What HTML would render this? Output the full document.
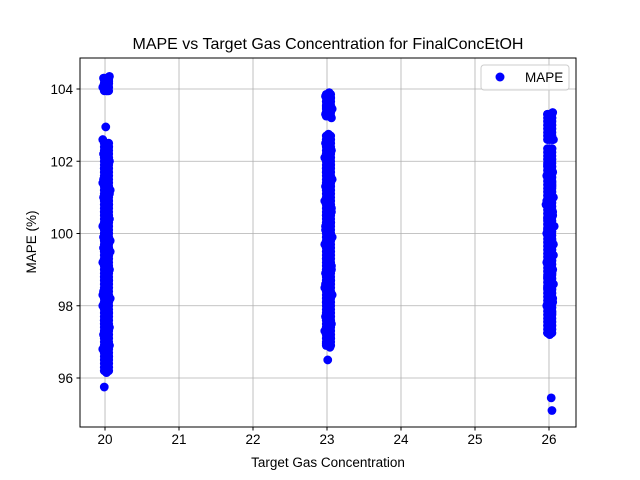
<!DOCTYPE html>
<html><head><meta charset="utf-8"><style>
body{margin:0;background:#fff;}
svg{display:block;font-family:"Liberation Sans","DejaVu Sans",sans-serif;}
</style></head><body>
<svg id="chart" width="640" height="480">
<rect width="640" height="480" fill="#fff"/>
<g id="grid"></g>
<g id="points"></g>
<rect x="80" y="58" width="496" height="369" fill="none" stroke="#000" stroke-width="1"/>
<g id="axes"></g>
<text x="328" y="49" text-anchor="middle" font-size="16">MAPE vs Target Gas Concentration for FinalConcEtOH</text>
<text x="328" y="467" text-anchor="middle" font-size="13.5">Target Gas Concentration</text>
<text transform="translate(36,242) rotate(-90)" text-anchor="middle" font-size="13.5">MAPE (%)</text>
<g>
<rect x="481" y="65" width="88" height="25" rx="3" fill="#fff" fill-opacity="0.8" stroke="#ccc"/>
<circle cx="500" cy="77" r="4.5" fill="#0000ff"/>
<text x="525" y="82" font-size="13.5">MAPE</text>
</g>
</svg>
<script>
const xTicks=[20,21,22,23,24,25,26];
const yTicks=[96,98,100,102,104];
const xVals=[
19.98,20.04,19.99,20.05,19.97,20.03,20.06,20.02,
20.01,19.97,20.05,19.98,20.06,19.99,20.04,19.97,20.07,19.98,20.05,19.99,20.06,19.97,20.04,20.07,19.98,20.05,19.97,20.06,19.99,20.04,19.98,20.07,19.97,20.05,19.99,20.06,19.98,20.04,19.97,20.05,20.0,20.02,19.99,
20.03,19.98,20.06,20.0,20.04,19.98,20.07,20.01,20.05,19.97,20.04,19.99,20.06,
22.98,23.05,22.99,23.04,23.07,22.98,23.03,23.06,
23.02,22.98,23.06,22.97,23.05,22.99,23.07,22.98,23.04,22.97,23.06,22.99,23.05,22.98,23.07,22.97,23.04,22.99,23.06,22.98,23.05,22.97,23.07,22.99,23.04,22.98,23.06,22.97,23.05,22.99,23.04,23.01,
23.03,22.99,23.05,23.0,23.06,22.98,23.04,23.0,23.06,22.98,
25.98,26.04,26.0,26.05,26.02,26.06,25.99,26.04,
26.0,25.98,26.05,25.97,26.04,25.99,26.06,25.96,26.05,25.98,26.07,25.97,26.04,25.99,26.06,25.97,26.05,25.98,26.06,25.99,26.05,25.97,26.04,25.99,26.03,25.98,26.01,
26.04,25.97,26.05,25.98,26.06,26.0,26.04,25.98,26.05,26.03,26.04
];
const yVals=[
104.3,104.3,104.15,104.2,104.05,103.95,104.35,104.1,
102.95,102.6,102.4,102.2,102.0,101.8,101.6,101.4,101.2,101.0,100.8,100.6,100.4,100.2,100.0,99.8,99.6,99.4,99.2,99.0,98.8,98.6,98.4,98.2,98.0,97.8,97.6,97.4,97.2,97.0,96.8,96.6,96.4,96.15,95.75,
101.9,101.5,101.1,100.7,100.3,99.9,99.5,99.1,98.7,98.3,97.9,97.5,96.9,
103.8,103.75,103.5,103.6,103.45,103.3,103.9,103.2,
102.75,102.5,102.3,102.1,101.9,101.7,101.5,101.3,101.1,100.9,100.7,100.5,100.3,100.1,99.9,99.7,99.5,99.3,99.1,98.9,98.7,98.5,98.3,98.1,97.9,97.7,97.5,97.3,97.1,96.95,96.85,96.5,
102.2,101.8,101.4,101.0,100.6,100.2,99.8,99.4,99.0,98.6,
103.3,103.2,103.05,103.35,102.9,102.6,102.75,102.35,
102.1,101.9,101.7,101.6,101.4,101.2,101.0,100.8,100.6,100.4,100.2,100.0,99.8,99.6,99.4,99.2,99.0,98.8,98.6,98.4,98.2,98.0,97.8,97.6,97.4,97.25,97.2,
101.3,100.9,100.5,100.1,99.7,99.3,98.9,98.5,98.1,95.45,95.1
];
/* dense fill points: each cluster's y values repeated at several x offsets */
const fillY20=[96.2,96.3,96.4,96.5,96.6,96.7,96.8,96.9,97.0,97.1,97.2,97.3,97.4,97.5,97.6,97.7,97.8,97.9,98.0,98.1,98.2,98.3,98.4,98.5,98.6,98.7,98.8,98.9,99.0,99.1,99.2,99.3,99.4,99.5,99.6,99.7,99.8,99.9,100.0,100.1,100.2,100.3,100.4,100.5,100.6,100.7,100.8,100.9,101.0,101.1,101.2,101.3,101.4,101.5,101.6,101.7,101.8,101.9,102.0,102.1,102.2,102.3,102.4,102.5,103.95,104.05,104.15,104.25,104.3];
const fillX20=[19.99,20.02,20.05];
const fillY23=[96.9,97.0,97.1,97.2,97.3,97.4,97.5,97.6,97.7,97.8,97.9,98.0,98.1,98.2,98.3,98.4,98.5,98.6,98.7,98.8,98.9,99.0,99.1,99.2,99.3,99.4,99.5,99.6,99.7,99.8,99.9,100.0,100.1,100.2,100.3,100.4,100.5,100.6,100.7,100.8,100.9,101.0,101.1,101.2,101.3,101.4,101.5,101.6,101.7,101.8,101.9,102.0,102.1,102.2,102.3,102.4,102.5,102.6,102.7,103.25,103.35,103.45,103.55,103.65,103.75,103.85];
const fillX23=[22.99,23.02,23.05];
const fillY26=[97.25,97.35,97.45,97.55,97.65,97.75,97.85,97.95,98.05,98.15,98.25,98.35,98.45,98.55,98.65,98.75,98.85,98.95,99.05,99.15,99.25,99.35,99.45,99.55,99.65,99.75,99.85,99.95,100.05,100.15,100.25,100.35,100.45,100.55,100.65,100.75,100.85,100.95,101.05,101.15,101.25,101.35,101.45,101.55,101.65,101.75,101.85,101.95,102.05,102.15,102.25,102.35,102.6,102.7,102.8,102.9,103.0,103.1,103.2,103.3];
const fillX26=[25.98,26.01,26.04];
const NS="http://www.w3.org/2000/svg";
const L=80,R=576,T=58,B=427;
const xMin=19.662,xMax=26.365,yMin=94.644,yMax=104.858;
function sx(v){return L+(v-xMin)/(xMax-xMin)*(R-L);}
function sy(v){return B-(v-yMin)/(yMax-yMin)*(B-T);}
const grid=document.getElementById('grid'),axes=document.getElementById('axes'),pts=document.getElementById('points');
function mk(tag,attrs,parent){const e=document.createElementNS(NS,tag);for(const k in attrs)e.setAttribute(k,attrs[k]);parent.appendChild(e);return e;}
xTicks.forEach(t=>{
 const x=sx(t);
 const g=mk('line',{x1:x,x2:x,y1:T,y2:B,stroke:'#b0b0b0','stroke-width':0.8},grid);
 
 
 mk('line',{x1:x,x2:x,y1:B,y2:B+3.5,stroke:'#000'},axes);
 const tx=mk('text',{x:x,y:B+17,'text-anchor':'middle','font-size':13.5},axes);
 tx.textContent=t;
 
 
});
yTicks.forEach(t=>{
 const y=sy(t);
 const g=mk('line',{x1:L,x2:R,y1:y,y2:y,stroke:'#b0b0b0','stroke-width':0.8},grid);
 
 
 mk('line',{x1:L-3.5,x2:L,y1:y,y2:y,stroke:'#000'},axes);
 const tx=mk('text',{x:L-7,y:y+5,'text-anchor':'end','font-size':13.5},axes);
 tx.textContent=t;
 
 
});
function dot(x,y){
 const c=mk('circle',{cx:sx(x),cy:sy(y),r:4.4,fill:'#0000ff'},pts);
 
 
}
[[fillX20,fillY20],[fillX23,fillY23],[fillX26,fillY26]].forEach(([xs,ys])=>{
 xs.forEach(x=>ys.forEach(y=>dot(x,y)));
});
for(let i=0;i<xVals.length;i++) dot(xVals[i],yVals[i]);
</script>
</body></html>
